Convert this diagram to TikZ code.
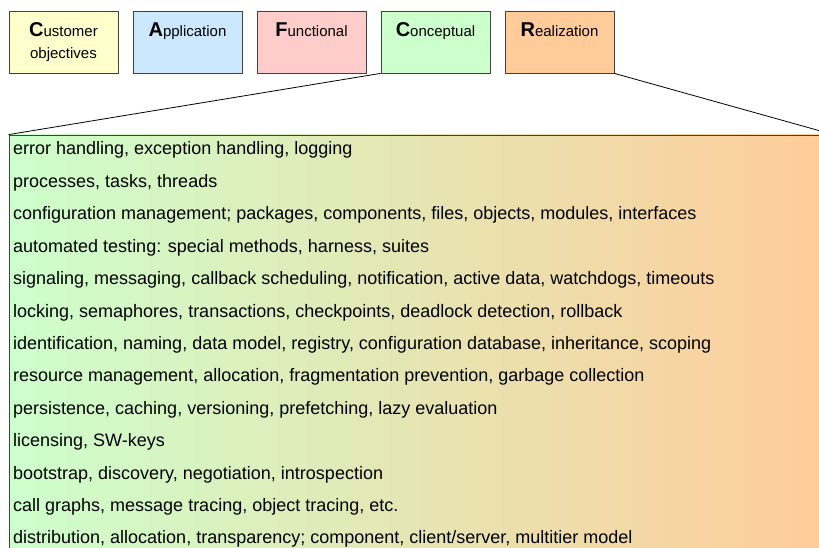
\documentclass[tikz,border=0pt]{standalone}
\usepackage{fontspec}
\setmainfont{Liberation Sans}

\definecolor{custcol}{RGB}{255,255,204}
\definecolor{applcol}{RGB}{204,232,255}
\definecolor{funccol}{RGB}{255,204,204}
\definecolor{conccol}{RGB}{204,255,204}
\definecolor{realcol}{RGB}{255,204,153}
\definecolor{edgecol}{RGB}{64,64,64}
\newcommand{\bigletter}[1]{\textbf{\fontsize{20}{20}\selectfont #1}}

\begin{document}
\begin{tikzpicture}[x=1pt,y=-1pt,
	phase/.style={draw=edgecol, line width=0.8pt, minimum width=109pt, minimum height=62pt,
		inner sep=0pt, text height=10pt, text depth=20pt, font=\fontsize{15}{22}\selectfont},
	topic/.style={anchor=base west, inner sep=0pt, font=\fontsize{18}{18}\selectfont}]

\useasboundingbox (0,0) rectangle (819,548);
\clip (0,0) rectangle (819,548);

% the five views
\node at (63.5, 42)[phase, fill=custcol](cust){\begin{tabular}[t]{@{}c@{}}\bigletter{C}ustomer\\objectives\end{tabular}};
\node at (187.5, 42)[phase, fill=applcol](appl){\bigletter{A}pplication};
\node at (311.5, 42)[phase, fill=funccol](func){\bigletter{F}unctional};
\node at (435.5, 42)[phase, fill=conccol](conc){\bigletter{C}onceptual};
\node at (559.5, 42)[phase, fill=realcol](real){\bigletter{R}ealization};

% zoomed list, runs off the page
\node at (421, 347.5)[draw=edgecol, line width=0.8pt, inner sep=0pt, minimum width=824pt, minimum height=425pt,
	left color=conccol, right color=realcol](detail){};

\draw[line width=0.8pt] (conc.south west) -- (detail.north west);
\draw[line width=0.8pt] (real.south east) -- (detail.north east);

\foreach \txt [count=\i] in {
	{error handling, exception handling, logging},
	{processes, tasks, threads},
	{configuration management; packages, components, files, objects, modules, interfaces},
	{automated testing: special methods, harness, suites},
	{signaling, messaging, callback scheduling, notification, active data, watchdogs, timeouts},
	{locking, semaphores, transactions, checkpoints, deadlock detection, rollback},
	{identification, naming, data model, registry, configuration database, inheritance, scoping},
	{resource management, allocation, fragmentation prevention, garbage collection},
	{persistence, caching, versioning, prefetching, lazy evaluation},
	{licensing, SW-keys},
	{bootstrap, discovery, negotiation, introspection},
	{call graphs, message tracing, object tracing, etc.},
	{distribution, allocation, transparency; component, client/server, multitier model}}
{
	\node at (13, 155+32.4*\i-32.4)[topic](L\i){\txt};
}

\end{tikzpicture}
\end{document}
